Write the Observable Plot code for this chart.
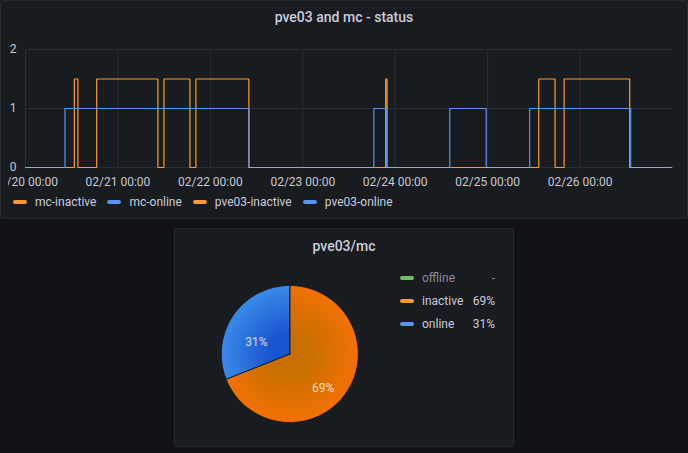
<!DOCTYPE html>
<html><head><meta charset="utf-8">
<script src="https://cdn.jsdelivr.net/npm/d3@7"></script>
<script src="https://cdn.jsdelivr.net/npm/@observablehq/plot@0.6"></script>
<style>
html,body{margin:0;padding:0}
body{background:#111217;width:688px;height:453px;overflow:hidden;font-family:Roboto,"Noto Sans",sans-serif;position:relative}
.panel{position:absolute;background:#181b1f;border:1px solid #25282d;border-radius:2px;box-sizing:border-box}
.title{position:absolute;left:0;right:0;text-align:center;font-size:14px;font-weight:500;color:#ccccdc;line-height:18px}
.wrap{position:absolute;overflow:hidden}
.wrap svg{overflow:hidden;display:block}
.legend{position:absolute;display:flex;align-items:center;font-size:12px;color:#ccccdc;line-height:16px}
.legend .item{display:flex;align-items:center;margin-right:11px}
.legend .mk{width:14px;height:4px;border-radius:2px;margin-right:8px}
.pl{position:absolute;font-size:12px;color:#ccccdc;line-height:16px;height:16px}
.pl .mk{position:absolute;left:0;top:6px;width:14px;height:4px;border-radius:2px}
.pl .nm{position:absolute;left:22px;top:0;white-space:nowrap}
.pl .vl{position:absolute;right:0;top:0;white-space:nowrap}
</style></head>
<body>
<div class="panel" style="left:0;top:0;width:688px;height:219px"></div>
<div class="title" style="top:8px;left:0;width:688px">pve03 and mc - status</div>
<div class="wrap" id="ts" style="left:8px;top:40px;width:672px;height:160px"></div>
<div class="legend" id="tslegend" style="left:13px;top:194px;height:16px"></div>

<div class="panel" style="left:174px;top:228px;width:340px;height:219px"></div>
<div class="title" style="top:237px;left:174px;width:340px">pve03/mc</div>
<div class="wrap" id="pie" style="left:200px;top:275px;width:180px;height:160px"></div>
<div id="pielegend"></div>

<script>
// ---------- time series data ----------
const legendSeries = ["mc-inactive", "mc-online", "pve03-inactive", "pve03-online"];
const legendColors = ["#FF9830", "#5794F2", "#FF9830", "#5794F2"];

const onlineTimes = [
  "2024-02-20T00:00Z", "2024-02-20T10:15Z", "2024-02-22T10:02Z", "2024-02-23T18:27Z",
  "2024-02-23T21:45Z", "2024-02-24T14:10Z", "2024-02-24T23:37Z", "2024-02-25T10:55Z",
  "2024-02-26T13:09Z", "2024-02-26T23:55Z"
];
const onlineValues = [0, 1, 0, 1, 0, 1, 0, 1, 0, 0];

const inactiveTimes = [
  "2024-02-20T00:00Z", "2024-02-20T12:41Z", "2024-02-20T13:37Z", "2024-02-20T18:29Z",
  "2024-02-21T10:23Z", "2024-02-21T11:57Z", "2024-02-21T18:42Z", "2024-02-21T20:15Z",
  "2024-02-22T10:00Z", "2024-02-23T21:32Z", "2024-02-23T21:53Z", "2024-02-25T13:16Z",
  "2024-02-25T17:31Z", "2024-02-25T19:51Z", "2024-02-26T12:53Z", "2024-02-26T23:55Z"
];
const inactiveValues = [0, 1.5, 0, 1.5, 0, 1.5, 0, 1.5, 0, 1.5, 0, 1.5, 0, 1.5, 0, 0];

const xDomain = ["2024-02-20T00:00Z", "2024-02-27T00:00Z"];
const xTicks = ["2024-02-20T00:00Z", "2024-02-21T00:00Z", "2024-02-22T00:00Z", "2024-02-23T00:00Z",
  "2024-02-24T00:00Z", "2024-02-25T00:00Z", "2024-02-26T00:00Z"];
const yTicks = [0, 1, 2];

// ---------- pie data ----------
const pieLabels = ["offline", "inactive", "online"];
const pieValues = [0, 69, 31];
const pieColors = ["#73BF69", "#FF9830", "#5794F2"];
const pieGradFrom = ["#4f9a45", "#c96f02", "#1a55d0"];
const pieGradTo = ["#6fbf65", "#f27102", "#3a8ae8"];

// ---------- build time series ----------
const online = onlineTimes.map((t, i) => ({date: new Date(t), value: onlineValues[i]}));
const inactive = inactiveTimes.map((t, i) => ({date: new Date(t), value: inactiveValues[i]}));
const allTimes = Array.from(new Set([...onlineTimes, ...inactiveTimes].map(t => +new Date(t)))).sort((a, b) => a - b).map(t => new Date(t));
function valueAt(arr, t) { let v = arr[0].value; for (const d of arr) { if (+d.date <= +t) v = d.value; else break; } return v; }
const idle = [];
for (let i = 0; i < allTimes.length - 1; i++) {
  const t = allTimes[i];
  if (valueAt(online, t) === 0 && valueAt(inactive, t) === 0) idle.push({x1: t, x2: allTimes[i + 1], y: 0});
}
const fmt = d3.utcFormat("%m/%d %H:%M");
const grid = "#2a2d32";

const ts = Plot.plot({
  width: 672, height: 160,
  marginLeft: 17, marginRight: 8, marginTop: 9, marginBottom: 33,
  style: {background: "transparent", color: "#c8c9d2", fontSize: "12px", fontFamily: "Roboto, sans-serif"},
  x: {type: "utc", domain: xDomain.map(d => new Date(d)), ticks: xTicks.map(d => new Date(d)), tickFormat: d => fmt(d), tickSize: 0, tickPadding: 10, label: null},
  y: {domain: [0, 2], ticks: yTicks, tickFormat: d => String(d), tickSize: 0, tickPadding: 9, label: null},
  marks: [
    Plot.ruleY(yTicks, {stroke: grid, strokeWidth: 1}),
    Plot.ruleX(xTicks.map(d => new Date(d)), {stroke: grid, strokeWidth: 1, insetBottom: -3}),
    Plot.line(inactive, {x: "date", y: "value", curve: "step-after", stroke: legendColors[0], strokeWidth: 1.2, strokeLinecap: "butt", strokeLinejoin: "miter"}),
    Plot.line(online, {x: "date", y: "value", curve: "step-after", stroke: legendColors[1], strokeWidth: 1.2, strokeLinecap: "butt", strokeLinejoin: "miter"}),
    Plot.ruleY(idle, {x1: "x1", x2: "x2", y: "y", stroke: "#9ea8cc", strokeWidth: 1.2})
  ]
});
document.getElementById("ts").appendChild(ts);

const lg = document.getElementById("tslegend");
legendSeries.forEach((name, i) => {
  const it = document.createElement("div"); it.className = "item";
  it.innerHTML = `<span class="mk" style="background:${legendColors[i]}"></span><span>${name}</span>`;
  lg.appendChild(it);
});

// ---------- pie ----------
const total = d3.sum(pieValues);
let acc = 0;
const slices = pieLabels.map((name, i) => {
  const a0 = acc / total * 2 * Math.PI; acc += pieValues[i];
  const a1 = acc / total * 2 * Math.PI;
  return {name, i, a0, a1, value: pieValues[i], mid: (a0 + a1) / 2};
}).filter(s => s.value > 0);
function slicePoints(s) {
  const pts = [{x: 0, y: 0}];
  const n = Math.max(2, Math.ceil((s.a1 - s.a0) / (Math.PI / 180)));
  for (let k = 0; k <= n; k++) { const a = s.a0 + (s.a1 - s.a0) * k / n; pts.push({x: Math.sin(a), y: Math.cos(a)}); }
  pts.push({x: 0, y: 0});
  return pts;
}
const pie = Plot.plot({
  width: 180, height: 160, margin: 0,
  style: {background: "transparent", fontFamily: "Roboto, sans-serif"},
  x: {domain: [-1, 1], range: [20.8, 157.8], axis: null},
  y: {domain: [-1, 1], range: [147, 10], axis: null},
  marks: [
    ...slices.map(s => Plot.line(slicePoints(s), {x: "x", y: "y", fill: `url(#piegrad${s.i})`, stroke: "#181b1f", strokeWidth: 1, strokeLinejoin: "round", curve: "linear"})),
    Plot.text(slices, {x: s => 0.59 * Math.sin(s.mid), y: s => 0.59 * Math.cos(s.mid), dy: 11,
      text: s => Math.round(s.value / total * 100) + "%", fill: "#ffffff", fillOpacity: 0.78, fontSize: 12})
  ]
});
const cx = pie.scale("x").apply(0), cy = pie.scale("y").apply(0), r = pie.scale("x").apply(1) - cx;
const defs = d3.select(pie).insert("defs", ":first-child");
pieLabels.forEach((n, i) => {
  const g = defs.append("radialGradient").attr("id", "piegrad" + i).attr("gradientUnits", "userSpaceOnUse")
    .attr("cx", cx).attr("cy", cy).attr("r", r);
  g.append("stop").attr("offset", 0.3).attr("stop-color", pieGradFrom[i]);
  g.append("stop").attr("offset", 1).attr("stop-color", pieGradTo[i]);
});
document.getElementById("pie").appendChild(pie);

const pl = document.getElementById("pielegend");
pieLabels.forEach((name, i) => {
  const el = document.createElement("div"); el.className = "pl";
  el.style.left = "400px"; el.style.top = (270 + i * 23) + "px"; el.style.width = "95px";
  const pct = pieValues[i] > 0 ? Math.round(pieValues[i] / total * 100) + "%" : "-";
  const dim = pieValues[i] > 0 ? "" : "color:#8a8b94";
  el.innerHTML = `<span class="mk" style="background:${pieColors[i]}"></span><span class="nm" style="${dim}">${name}</span><span class="vl" style="${dim}">${pct}</span>`;
  pl.appendChild(el);
});
</script>
</body></html>
